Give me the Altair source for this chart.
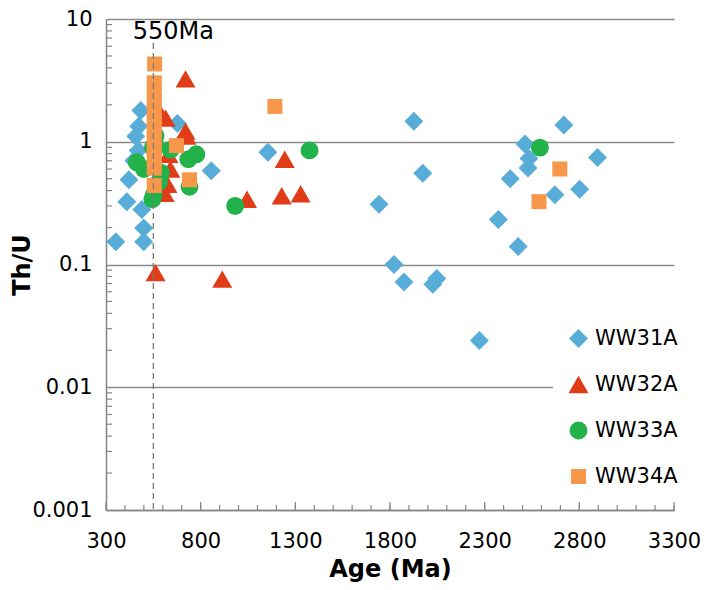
import altair as alt
import pandas as pd

# ---------------- data ----------------
series_names = ["WW31A", "WW32A", "WW33A", "WW34A"]
series_colors = ["#58acd8", "#e03c17", "#22b24a", "#f7974a"]
series_shapes = ["diamond", "triangle-up", "circle", "square"]
series_sizes = [360, 400, 320, 225]

ww31a_age = [352, 410, 421, 447, 457, 473, 484, 470, 489, 499, 499, 677, 856, 1155,
             1742, 1821, 1874, 1926, 1973, 2026, 2047, 2272, 2372, 2435, 2477, 2513,
             2529, 2534, 2671, 2718, 2802, 2896]
ww31a_thu = [0.153, 0.325, 0.49, 0.70, 1.11, 1.34, 1.80, 0.85, 0.28, 0.198, 0.153, 1.41,
             0.58, 0.82, 0.31, 0.10, 0.072, 1.47, 0.555, 0.069, 0.077, 0.024, 0.233, 0.50,
             0.14, 0.96, 0.61, 0.73, 0.37, 1.37, 0.41, 0.745]

ww32a_age = [720, 594, 615, 725, 720, 630, 625, 640, 610, 562, 914, 1045, 1228, 1244, 1328]
ww32a_thu = [3.25, 1.64, 1.56, 1.11, 1.22, 0.79, 0.45, 0.60, 0.38, 0.086, 0.076, 0.34,
             0.363, 0.72, 0.377]

ww33a_age = [463, 562, 548, 560, 641, 735, 777, 741, 552, 545, 590, 580, 982, 1375, 2592, 500]
ww33a_thu = [0.68, 1.12, 0.9, 0.95, 0.86, 0.72, 0.79, 0.43, 0.37, 0.34, 0.56, 0.47, 0.30,
             0.85, 0.895, 0.6]

ww34a_age = [557, 555, 555, 555, 555, 555, 555, 555, 555, 555, 555, 555, 672, 741, 1192,
             2697, 2587]
ww34a_thu = [4.3, 3.02, 2.51, 2.13, 1.77, 1.47, 1.25, 1.04, 0.86, 0.73, 0.61, 0.44, 0.93,
             0.49, 1.94, 0.60, 0.325]

x_major = [300, 800, 1300, 1800, 2300, 2800, 3300]
x_minor = list(range(300, 3301, 100))
y_major = [0.001, 0.01, 0.1, 1, 10]
y_decades = [0.001, 0.01, 0.1, 1]
y_multipliers = [2, 3, 4, 5, 6, 7, 8, 9]
y_minor = [d * m for d in y_decades for m in y_multipliers]

marker_age = [550]
marker_label = ["550Ma"]

# ---------------- table ----------------
rows = []
for i, (name, ages, vals) in enumerate(zip(series_names,
                                           [ww31a_age, ww32a_age, ww33a_age, ww34a_age],
                                           [ww31a_thu, ww32a_thu, ww33a_thu, ww34a_thu])):
    for a, v in zip(ages, vals):
        rows.append({"sample": name, "grp": name, "age": a, "thu": v, "ord": i})
df = pd.DataFrame(rows)

W, H = 568, 491
FONT = "DejaVu Sans"
AXIS_GRAY = "#858585"

xscale = alt.Scale(domain=[300, 3300], nice=False, zero=False)
yscale = alt.Scale(type="log", domain=[0.001, 10], nice=False)

x_axis = alt.Axis(values=x_major, format="d", title="Age (Ma)", grid=False,
                  ticks=False, tickSize=0, labelPadding=37, labelFlush=False,
                  labelBaseline="alphabetic",
                  titleY=66, titleBaseline="alphabetic")
y_axis = alt.Axis(values=y_major, format="~g", title="Th/U", grid=True,
                  ticks=False, tickSize=0, labelPadding=14, labelFlush=False,
                  titleX=-77, titleY=H / 2, titleBaseline="alphabetic")

points = alt.Chart(df).mark_point(filled=True, opacity=1, strokeWidth=0).encode(
    x=alt.X("age:Q", scale=xscale, axis=x_axis),
    y=alt.Y("thu:Q", scale=yscale, axis=y_axis),
    color=alt.Color("sample:N",
                    scale=alt.Scale(domain=series_names, range=series_colors),
                    legend=alt.Legend(title=None)),
    shape=alt.Shape("sample:N",
                    scale=alt.Scale(domain=series_names, range=series_shapes),
                    legend=alt.Legend(title=None)),
    size=alt.Size("grp:N",
                  scale=alt.Scale(type="ordinal", domain=series_names, range=series_sizes),
                  legend=None),
    order=alt.Order("ord:Q"),
)

y_ticks = alt.Chart(pd.DataFrame({"thu": y_minor})).mark_rule(
    color=AXIS_GRAY, strokeWidth=1.2).encode(
    y=alt.Y("thu:Q", scale=yscale, axis=y_axis),
    x=alt.value(0), x2=alt.value(6))

x_ticks_minor = alt.Chart(pd.DataFrame({"age": x_minor})).mark_rule(
    color=AXIS_GRAY, strokeWidth=1.2).encode(
    x=alt.X("age:Q", scale=xscale, axis=x_axis),
    y=alt.value(H), y2=alt.value(H - 5))

x_ticks_major = alt.Chart(pd.DataFrame({"age": x_major})).mark_rule(
    color=AXIS_GRAY, strokeWidth=1.2).encode(
    x=alt.X("age:Q", scale=xscale, axis=x_axis),
    y=alt.value(H), y2=alt.value(H - 8))

marker_df = pd.DataFrame({"age": marker_age, "label": marker_label})
marker_line = alt.Chart(marker_df).mark_rule(
    color="#7a7a7a", strokeWidth=1.3, strokeDash=[6, 4]).encode(
    x=alt.X("age:Q", scale=xscale, axis=x_axis),
    y=alt.value(24), y2=alt.value(H))

marker_text = alt.Chart(marker_df).mark_text(
    align="center", baseline="alphabetic", fontSize=24, font=FONT, color="#000000",
    dx=20).encode(
    x=alt.X("age:Q", scale=xscale, axis=x_axis),
    y=alt.value(20),
    text="label:N")

chart = alt.layer(
    points, marker_line, marker_text, y_ticks, x_ticks_minor, x_ticks_major
).properties(
    width=W, height=H,
    autosize=alt.AutoSizeParams(type="none"),
    padding={"left": 98, "top": 11, "right": 26, "bottom": 72},
).configure_view(
    stroke=None
).configure_axis(
    labelFont=FONT, labelFontSize=21, labelColor="#000000",
    titleFont=FONT, titleFontSize=24, titleFontWeight="bold", titleColor="#000000",
    domainColor=AXIS_GRAY, domainWidth=1.5,
    gridColor="#8a8a8a", gridWidth=1.5, gridOpacity=1,
).configure_legend(
    orient="none", legendX=447, legendY=294,
    fillColor="white", padding=15,
    labelFont=FONT, labelFontSize=21, labelColor="#000000",
    symbolSize=180, symbolStrokeWidth=0, symbolOpacity=1,
    rowPadding=24, labelOffset=6,
)

chart.save("out.html", embed_options={"renderer": "svg", "actions": False})
